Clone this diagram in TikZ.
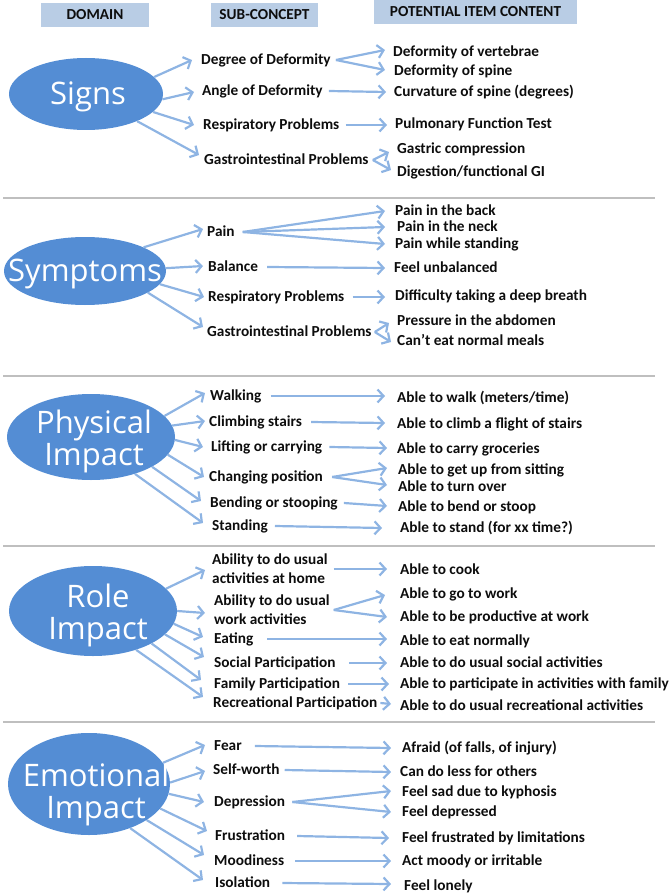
\documentclass[tikz,border=0pt]{standalone}
\usepackage{fontspec}
\setmainfont{Carlito}
\newfontfamily\ellfont{Open Sans}
\usetikzlibrary{arrows.meta,shapes.geometric}
\definecolor{ellblue}{RGB}{84,141,212}
\definecolor{arrblue}{RGB}{142,180,227}
\definecolor{hdrblue}{RGB}{185,205,229}
\definecolor{sepgray}{RGB}{191,191,191}
\definecolor{txtcol}{RGB}{13,13,13}
\tikzset{
  txt/.style={font=\fontsize{15.3}{18}\selectfont\bfseries, text=txtcol, anchor=west, inner sep=0pt, text height=10pt, text depth=1pt},
  txttwo/.style={font=\fontsize{15.3}{19}\selectfont\bfseries, text=txtcol, anchor=west, inner sep=0pt, align=left},
  ell/.style={ellipse, fill=ellblue, inner sep=0pt},
  elltxt/.style={text=white, font=\ellfont\fontsize{31}{32}\selectfont, align=center, inner sep=0pt, xshift=3pt},
  hdr/.style={fill=hdrblue, font=\fontsize{15.3}{18}\selectfont\bfseries, text=txtcol, inner sep=0pt},
  sepline/.style={draw=sepgray, line width=2pt},
  arr/.style={draw=arrblue, line width=2.2pt, -{Straight Barb[length=6pt,width=13pt]}}
}
\begin{document}
\begin{tikzpicture}[x=1pt,y=-1pt]
\useasboundingbox (0,0) rectangle (669,896);

% headers
\node[hdr, minimum width=108, minimum height=24] (hdom) at (95,15) {DOMAIN};
\node[hdr, minimum width=107, minimum height=24] (hsub) at (264.5,15) {SUB-CONCEPT};
\node[hdr, minimum width=203, minimum height=24] (hpot) at (475.5,12) {POTENTIAL ITEM CONTENT};

% separators
\draw[sepline] (3,197.5) -- (655,197.5);
\draw[sepline] (3,375.5) -- (655,375.5);
\draw[sepline] (3,545.5) -- (655,545.5);
\draw[sepline] (3,721.5) -- (655,721.5);

% ---------- Signs ----------
\node[ell, minimum width=154, minimum height=72, label={[elltxt, xshift=-1pt, yshift=-3pt]center:Signs}] (signs) at (86,94) {};
\node[txt] (deg) at (201,60) {Degree of Deformity};
\node[txt] (ang) at (202,91) {Angle of Deformity};
\node[txt] (resA) at (203,125) {Respiratory Problems};
\node[txt] (gasA) at (204,160) {Gastrointestinal Problems};
\node[txt] (vert) at (393,52) {Deformity of vertebrae};
\node[txt] (spine) at (394,71) {Deformity of spine};
\node[txt] (curv) at (394,92) {Curvature of spine (degrees)};
\node[txt] (pulm) at (395,124) {Pulmonary Function Test};
\node[txt] (gastric) at (397,149) {Gastric compression};
\node[txt] (digest) at (397,172) {Digestion/functional GI};
\draw[arr] (signs.14) -- ([shift={(-9,0)}]deg.west);
\draw[arr] (signs.-4) -- ([shift={(-8,1)}]ang.west);
\draw[arr] (signs.-15) -- ([shift={(-9,0)}]resA.west);
\draw[arr] (signs.-28) -- ([shift={(-5,-5)}]gasA.west);
\draw[arr] ([xshift=5]deg.east) -- ([shift={(-8,-2)}]vert.west);
\draw[arr] ([xshift=5]deg.east) -- ([shift={(-9,-1)}]spine.west);
\draw[arr] ([xshift=6]ang.east) -- ([shift={(-8,0)}]curv.west);
\draw[arr] ([xshift=6]resA.east) -- ([shift={(-8,1)}]pulm.west);
\draw[arr] ([xshift=4]gasA.east) -- ([shift={(-8,3)}]gastric.west);
\draw[arr] ([xshift=4]gasA.east) -- ([shift={(-6,-2)}]digest.west);

% ---------- Symptoms ----------
\node[ell, minimum width=162, minimum height=68, label={[elltxt, xshift=-3pt, yshift=-3pt]center:Symptoms}] (symp) at (85,271) {};
\node[txt] (pain) at (207,232) {Pain};
\node[txt] (bal) at (208,267) {Balance};
\node[txt] (resB) at (208,297) {Respiratory Problems};
\node[txt] (gasB) at (207,332) {Gastrointestinal Problems};
\node[txt] (back) at (395,211) {Pain in the back};
\node[txt] (neck) at (397,227) {Pain in the neck};
\node[txt] (pstand) at (395,244) {Pain while standing};
\node[txt] (unbal) at (394,268) {Feel unbalanced};
\node[txt] (breath) at (395,296) {Difficulty taking a deep breath};
\node[txt] (press) at (397,321) {Pressure in the abdomen};
\node[txt] (cant) at (397,341) {Can’t eat normal meals};
\draw[arr] (symp.22) -- ([shift={(-4,-3)}]pain.west);
\draw[arr] (symp.2) -- ([shift={(-5,-1)}]bal.west);
\draw[arr] (symp.-10) -- ([shift={(-4,0)}]resB.west);
\draw[arr] (symp.-19) -- ([shift={(-4,-5)}]gasB.west);
\draw[arr] ([xshift=8]pain.east) -- ([shift={(-10,0)}]back.west);
\draw[arr] ([xshift=8]pain.east) -- ([shift={(-12,0)}]neck.west);
\draw[arr] ([xshift=8]pain.east) -- ([shift={(-10,0)}]pstand.west);
\draw[arr] ([xshift=9]bal.east) -- ([shift={(-9,0)}]unbal.west);
\draw[arr] ([xshift=8]resB.east) -- ([shift={(-10,1)}]breath.west);
\draw[arr] ([xshift=3]gasB.east) -- ([shift={(-8,2)}]press.west);
\draw[arr] ([xshift=3]gasB.east) -- ([shift={(-6,1)}]cant.west);

% ---------- Physical Impact ----------
\node[ell, minimum width=168, minimum height=86, label={[elltxt, yshift=-4pt]center:{Physical\\Impact}}] (phys) at (91,437) {};
\node[txt] (walk) at (210,396) {Walking};
\node[txt] (climb) at (209,422) {Climbing stairs};
\node[txt] (lift) at (211,447) {Lifting or carrying};
\node[txt] (chg) at (209,477) {Changing position};
\node[txt] (bend) at (210,503) {Bending or stooping};
\node[txt] (standg) at (212,526) {Standing};
\node[txt] (awalk) at (397,398) {Able to walk (meters/time)};
\node[txt] (aclimb) at (397,424) {Able to climb a flight of stairs};
\node[txt] (acarry) at (397,449) {Able to carry groceries};
\node[txt] (aget) at (398,470) {Able to get up from sitting};
\node[txt] (aturn) at (398,487) {Able to turn over};
\node[txt] (abend) at (398,507) {Able to bend or stoop};
\node[txt] (astand) at (400,528) {Able to stand (for xx time?)};
\draw[arr] (phys.16) -- ([shift={(-5,-3)}]walk.west);
\draw[arr] (phys.8) -- ([shift={(-4,-1)}]climb.west);
\draw[arr] (phys.-2) -- ([shift={(-8,0)}]lift.west);
\draw[arr] (phys.-13) -- ([shift={(-5,0)}]chg.west);
\draw[arr] (phys.-26) -- ([shift={(-9,-2)}]bend.west);
\draw[arr] (phys.-40) -- ([shift={(-9,-3)}]standg.west);
\draw[arr] ([xshift=9]walk.east) -- ([shift={(-12,-2)}]awalk.west);
\draw[arr] ([xshift=9]climb.east) -- ([shift={(-12,-1)}]aclimb.west);
\draw[arr] ([xshift=7]lift.east) -- ([shift={(-10,-1)}]acarry.west);
\draw[arr] ([xshift=9]chg.east) -- ([shift={(-11,-2)}]aget.west);
\draw[arr] ([xshift=9]chg.east) -- ([shift={(-11,-2)}]aturn.west);
\draw[arr] ([xshift=6]bend.east) -- ([shift={(-11,-1)}]abend.west);
\draw[arr] ([xshift=7]standg.east) -- ([shift={(-18,0)}]astand.west);

% ---------- Role Impact ----------
\node[ell, minimum width=168, minimum height=90, label={[elltxt, xshift=2pt, yshift=-4pt]center:{Role\\Impact}}] (role) at (93,611) {};
\node[txttwo] (home) at (212,569) {Ability to do usual\\activities at home};
\node[txttwo] (work) at (214,610) {Ability to do usual\\work activities};
\node[txt] (eat) at (214,639) {Eating};
\node[txt] (social) at (214,663) {Social Participation};
\node[txt] (family) at (214,684) {Family Participation};
\node[txt] (recr) at (213,703) {Recreational Participation};
\node[txt] (cook) at (400,570) {Able to cook};
\node[txt] (gowork) at (400,594) {Able to go to work};
\node[txt] (prod) at (400,617) {Able to be productive at work};
\node[txt] (eatn) at (400,641) {Able to eat normally};
\node[txt] (socA) at (400,663) {Able to do usual social activities};
\node[txt] (famA) at (400,684) {Able to participate in activities with family};
\node[txt] (recA) at (400,706) {Able to do usual recreational activities};
\draw[arr] (role.17) -- ([shift={(-7,1)}]home.west);
\draw[arr] (role.0) -- ([shift={(-9,3)}]work.west);
\draw[arr] (role.-9) -- ([shift={(-11,-2)}]eat.west);
\draw[arr] (role.-18) -- ([shift={(-10,-6)}]social.west);
\draw[arr] (role.-29) -- ([shift={(-13,-4)}]family.west);
\draw[arr] (role.-42) -- ([shift={(-10,-6)}]recr.west);
\draw[arr] ([xshift=6]home.east) -- ([shift={(-13,-1)}]cook.west);
\draw[arr] ([xshift=4]work.east) -- ([shift={(-15,1)}]gowork.west);
\draw[arr] ([xshift=4]work.east) -- ([shift={(-13,0)}]prod.west);
\draw[arr] ([xshift=14]eat.east) -- ([shift={(-13,-2)}]eatn.west);
\draw[arr] ([xshift=13]social.east) -- ([shift={(-13,0)}]socA.west);
\draw[arr] ([xshift=8]family.east) -- ([shift={(-11,0)}]famA.west);
\draw[arr] ([xshift=3]recr.east) -- ([shift={(-9,-2)}]recA.west);

% ---------- Emotional Impact ----------
\node[ell, minimum width=162, minimum height=102, label={[elltxt, xshift=4pt, yshift=-10pt]center:{Emotional\\Impact}}] (emo) at (89,784) {};
\node[txt] (fear) at (214,746) {Fear};
\node[txt] (self) at (213,770) {Self-worth};
\node[txt] (dep) at (214,802) {Depression};
\node[txt] (frus) at (215,836) {Frustration};
\node[txt] (mood) at (214,861) {Moodiness};
\node[txt] (iso) at (215,883) {Isolation};
\node[txt] (afraid) at (402,748) {Afraid (of falls, of injury)};
\node[txt] (less) at (400,772) {Can do less for others};
\node[txt] (sad) at (402,792) {Feel sad due to kyphosis};
\node[txt] (depd) at (402,812) {Feel depressed};
\node[txt] (frusA) at (402,838) {Feel frustrated by limitations};
\node[txt] (moody) at (402,861) {Act moody or irritable};
\node[txt] (lonely) at (404,886) {Feel lonely};
\draw[arr] (emo.16) -- ([shift={(-9,-1)}]fear.west);
\draw[arr] (emo.1) -- ([shift={(-8,1)}]self.west);
\draw[arr] (emo.-7) -- ([shift={(-10,0)}]dep.west);
\draw[arr] (emo.-19) -- ([shift={(-8,-5)}]frus.west);
\draw[arr] (emo.-32) -- ([shift={(-10,-6)}]mood.west);
\draw[arr] (emo.-47) -- ([shift={(-12,-3)}]iso.west);
\draw[arr] ([xshift=13]fear.east) -- ([shift={(-11,0)}]afraid.west);
\draw[arr] ([xshift=5]self.east) -- ([shift={(-9,0)}]less.west);
\draw[arr] ([xshift=7]dep.east) -- ([shift={(-11,-1)}]sad.west);
\draw[arr] ([xshift=7]dep.east) -- ([shift={(-11,0)}]depd.west);
\draw[arr] ([xshift=12]frus.east) -- ([shift={(-13,0)}]frusA.west);
\draw[arr] ([xshift=11]mood.east) -- ([shift={(-11,0)}]moody.west);
\draw[arr] ([xshift=12]iso.east) -- ([shift={(-13,-2)}]lonely.west);
\end{tikzpicture}
\end{document}
